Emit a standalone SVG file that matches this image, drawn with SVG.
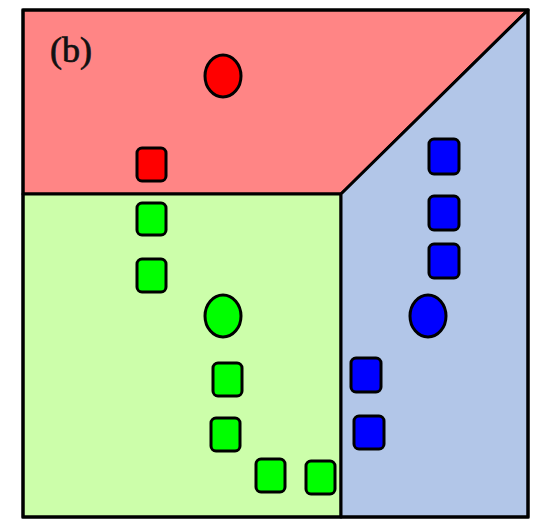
<svg xmlns="http://www.w3.org/2000/svg" width="547" height="520" viewBox="0 0 547 520">
  <style>
    .region { stroke: #000; stroke-width: 3; stroke-linejoin: round; }
    .tok { stroke: #000; stroke-width: 3; }
    .r { fill: #ff0000; }
    .g { fill: #00ff00; }
    .b { fill: #0000ff; }
    .label { font-family: "Liberation Serif", "DejaVu Serif", serif; font-size: 36px; fill: #111; stroke: #111; stroke-width: 0.7; }
  </style>
  <rect width="547" height="520" fill="#ffffff"/>

  <!-- three regions -->
  <g id="region-red">
    <polygon class="region" points="23,10 528,10 341,194 23,194" fill="#ff8585"/>
  </g>
  <g id="region-green">
    <polygon class="region" points="23,194 341,194 341,517 23,517" fill="#ccfeaa"/>
  </g>
  <g id="region-blue">
    <polygon class="region" points="341,194 528,10 528,517 341,517" fill="#b2c6e8"/>
  </g>
  <rect x="23" y="10" width="505" height="507" fill="none" stroke="#000" stroke-width="3"/>

  <text class="label" x="50" y="62">(b)</text>

  <!-- red tokens -->
  <g id="red-circle"><ellipse class="tok r" cx="223" cy="76" rx="18" ry="21"/></g>
  <g id="red-sq1"><rect class="tok r" x="137" y="148" width="29" height="33" rx="5"/></g>

  <!-- green tokens -->
  <g id="green-sq1"><rect class="tok g" x="137" y="203" width="29" height="32" rx="5"/></g>
  <g id="green-sq2"><rect class="tok g" x="137" y="259" width="29" height="33" rx="5"/></g>
  <g id="green-circle"><ellipse class="tok g" cx="223" cy="316" rx="18" ry="21"/></g>
  <g id="green-sq3"><rect class="tok g" x="213" y="363" width="29" height="33" rx="5"/></g>
  <g id="green-sq4"><rect class="tok g" x="211" y="418" width="29" height="33" rx="5"/></g>
  <g id="green-sq5"><rect class="tok g" x="256" y="459" width="29" height="33" rx="5"/></g>
  <g id="green-sq6"><rect class="tok g" x="306" y="461" width="29" height="33" rx="5"/></g>

  <!-- blue tokens -->
  <g id="blue-sq1"><rect class="tok b" x="429" y="139" width="30" height="35" rx="5"/></g>
  <g id="blue-sq2"><rect class="tok b" x="429" y="196" width="30" height="34" rx="5"/></g>
  <g id="blue-sq3"><rect class="tok b" x="429" y="244" width="30" height="34" rx="5"/></g>
  <g id="blue-circle"><ellipse class="tok b" cx="428" cy="316" rx="18" ry="21"/></g>
  <g id="blue-sq4"><rect class="tok b" x="351" y="358" width="30" height="34" rx="5"/></g>
  <g id="blue-sq5"><rect class="tok b" x="354" y="416" width="30" height="33" rx="5"/></g>
</svg>
